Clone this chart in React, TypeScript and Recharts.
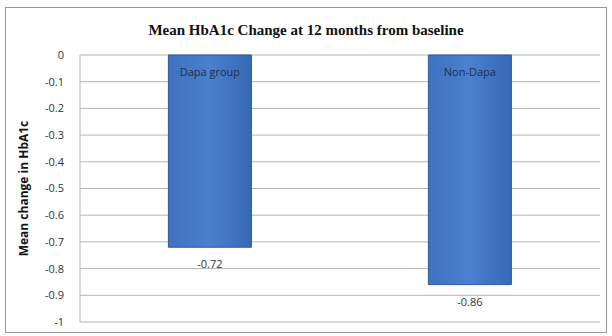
import React from 'react';
import { BarChart, Bar, XAxis, YAxis, CartesianGrid, LabelList } from 'recharts';

const categories = ['Dapa group', 'Non-Dapa'];
const meanChange = [-0.72, -0.86];
const yTicks = [0, -0.1, -0.2, -0.3, -0.4, -0.5, -0.6, -0.7, -0.8, -0.9, -1];

const data = categories.map((name, i) => ({ name, value: meanChange[i] }));

const NameLabel = (props: any) => {
  const { x, y, width, height, value } = props;
  const top = Math.min(y, y + height);
  return (
    <text x={x + width / 2} y={top + 18} textAnchor="middle" dominantBaseline="middle"
      fontFamily="Open Sans" fontSize={11} fill="#1f2f4a">{value}</text>
  );
};

const ValueLabel = (props: any) => {
  const { x, y, width, height, value } = props;
  const bottom = Math.max(y, y + height);
  return (
    <text x={x + width / 2} y={bottom + 18} textAnchor="middle" dominantBaseline="middle"
      fontFamily="Open Sans" fontSize={11} fill="#333">{value}</text>
  );
};

export default function App() {
  return (
    <div style={{ position: 'absolute', left: 0, top: 0, width: 612, height: 336, background: '#fff' }}>
      <div style={{ position: 'absolute', left: 5, top: 7, width: 600, height: 324, border: '1px solid #9a9a9a' }} />
      <div style={{ position: 'absolute', left: 0, top: 22, width: 612, textAlign: 'center', fontFamily: 'Liberation Serif', fontWeight: 'bold', fontSize: 15, color: '#111' }}>
        Mean HbA1c Change at 12 months from baseline
      </div>
      <div style={{ position: 'absolute', left: 0, top: 0 }}>
        <BarChart width={612} height={336} data={data} margin={{ top: 55, right: 12, bottom: 14, left: 0 }} barCategoryGap="34%">
          <defs>
            <linearGradient id="barGrad" x1="0" y1="0" x2="1" y2="0">
              <stop offset="0%" stopColor="#3f72c0" />
              <stop offset="50%" stopColor="#4a80d0" />
              <stop offset="100%" stopColor="#3768b4" />
            </linearGradient>
          </defs>
          <CartesianGrid vertical={false} stroke="#b5b5b5" strokeWidth={1} />
          <XAxis dataKey="name" hide />
          <YAxis
            width={80}
            domain={[-1, 0]}
            ticks={yTicks}
            interval={0}
            tickLine={false}
            axisLine={{ stroke: '#b5b5b5' }}
            tickMargin={10}
            tick={{ fontFamily: 'Open Sans', fontSize: 11, fill: '#333' }}
            tickFormatter={(v: number) => String(Number(v.toFixed(1)))}
            label={{ value: 'Mean change in HbA1c', angle: -90, position: 'insideLeft', offset: 24, style: { fontFamily: 'Open Sans', fontWeight: 'bold', fontSize: 12, fill: '#111', textAnchor: 'middle' } }}
          />
          <Bar dataKey="value" fill="url(#barGrad)" stroke="#2d5a9a" strokeWidth={1} isAnimationActive={false}>
            <LabelList dataKey="name" content={NameLabel} />
            <LabelList dataKey="value" content={ValueLabel} />
          </Bar>
        </BarChart>
      </div>
    </div>
  );
}
